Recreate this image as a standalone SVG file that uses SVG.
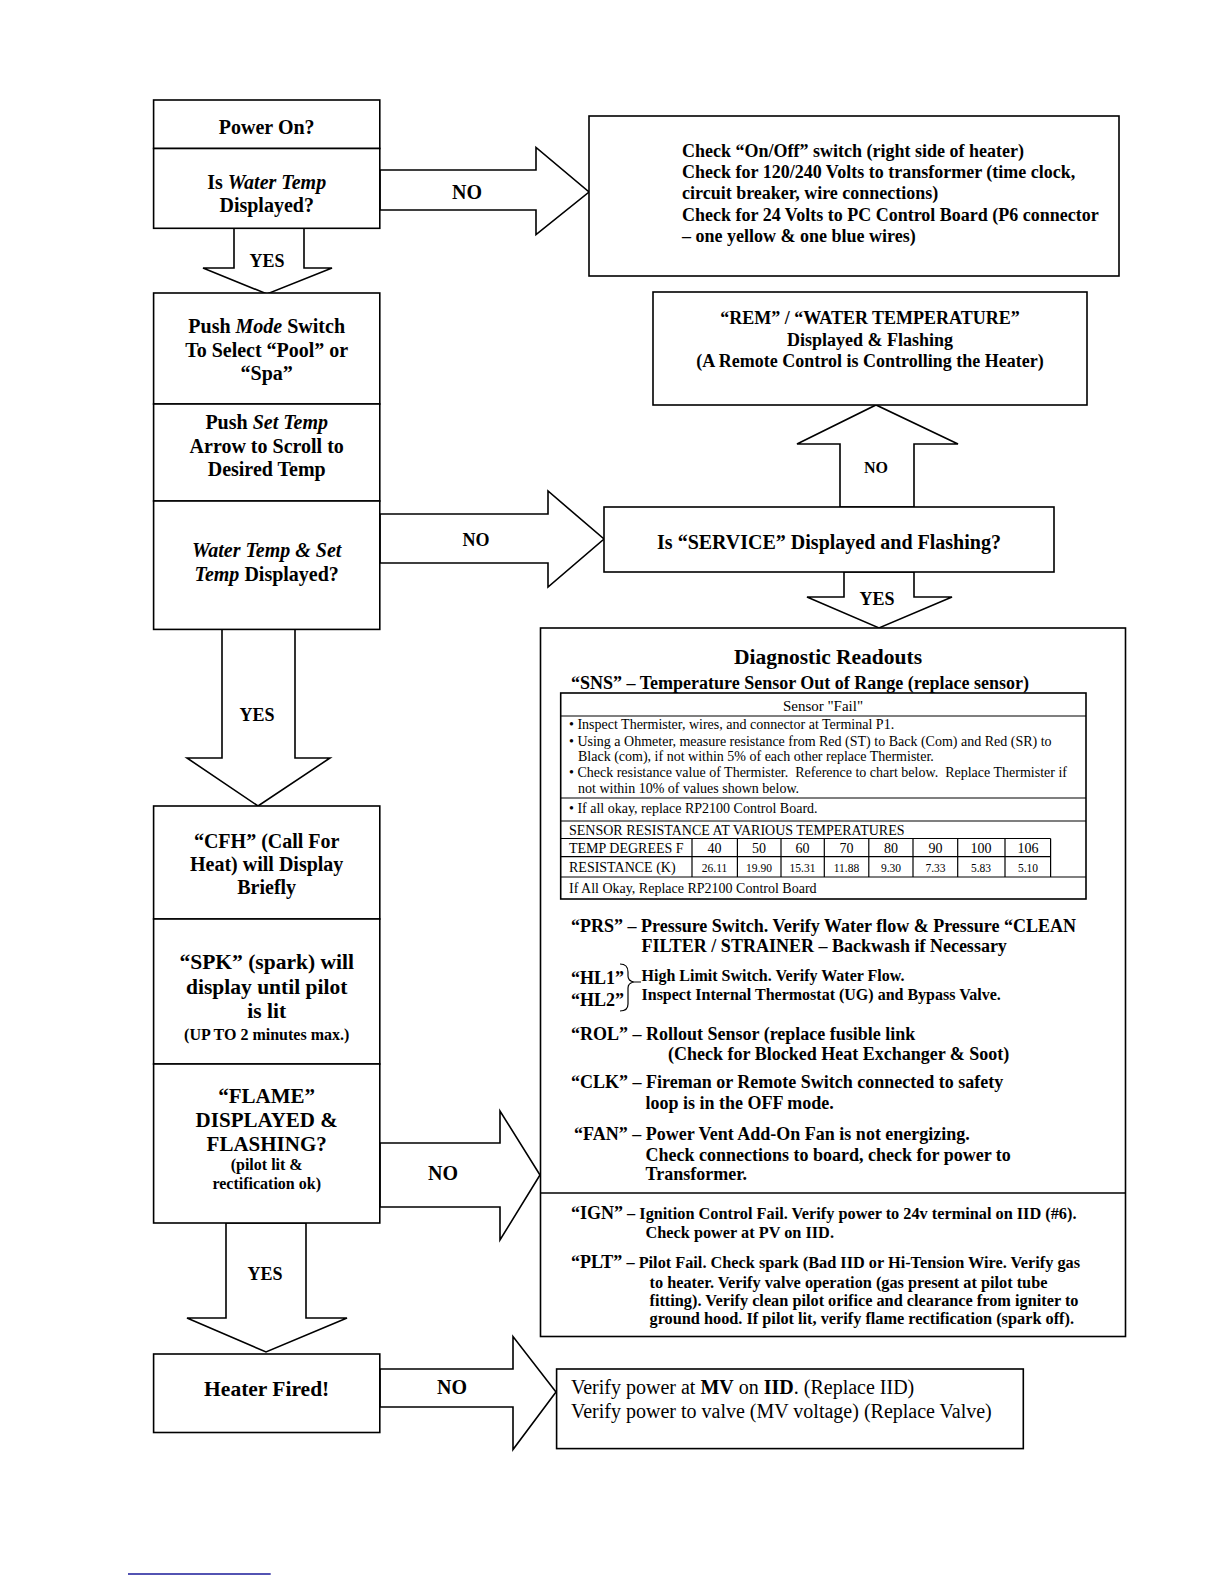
<svg xmlns="http://www.w3.org/2000/svg" width="1224" height="1584" viewBox="0 0 1224 1584">
<style>
  .box{fill:#fff;stroke:#000;stroke-width:1.6}
  .ln{stroke:#000;stroke-width:1.6;fill:none}
  .thin{stroke:#000;stroke-width:1.2;fill:none}
  .arr{fill:#fff;stroke:#000;stroke-width:1.6;stroke-linejoin:miter}
  text{font-family:"Liberation Serif","Times New Roman",serif;fill:#000}
  .b{font-weight:bold}
  .c{text-anchor:middle}
  .t16{font-size:16px}
  .t18{font-size:18px}
  .t20{font-size:20px}
  .t21{font-size:21px}
  .tb{font-size:14px}
  .tv{font-size:11.5px}
  .ts{font-size:16.3px}
</style>
<rect width="1224" height="1584" fill="#fff"/>

<g id="connectors">
  <polygon class="arr" points="234,228 234,268 203,268 267,294 332,268 304,268 304,228"/>
  <text class="b c t18" x="267" y="267">YES</text>
  <polygon class="arr" points="380,170 536,170 536,147.5 589,192 536,234.5 536,210 380,210"/>
  <text class="b c t20" x="467" y="199">NO</text>
  <polygon class="arr" points="840,507 840,444 797,444 876,405 958,444 914,444 914,507"/>
  <text class="b c t16" x="876" y="473">NO</text>
  <polygon class="arr" points="380,514 548,514 548,491 604,539 548,587 548,563 380,563"/>
  <text class="b c t18" x="476" y="546">NO</text>
  <polygon class="arr" points="844,572 844,597 807,597 879,628 952,597 914,597 914,572"/>
  <text class="b c t18" x="877" y="605">YES</text>
  <polygon class="arr" points="222,629 222,758 187,758 258,806 330,758 295,758 295,629"/>
  <text class="b c t18" x="257" y="721">YES</text>
  <polygon class="arr" points="380,1143 500,1143 500,1111 540,1175 500,1240 500,1207 380,1207"/>
  <text class="b c t20" x="443" y="1180">NO</text>
  <polygon class="arr" points="226,1223 226,1318 187,1318 266,1352 347,1318 306,1318 306,1223"/>
  <text class="b c t18" x="265" y="1280">YES</text>
  <polygon class="arr" points="380,1369 513,1369 513,1336.5 556,1392 513,1449.5 513,1407 380,1407"/>
  <text class="b c t20" x="452" y="1394">NO</text>
</g>

<g id="power-on">
  <rect class="box" x="153.6" y="100" width="226.2" height="48.5"/>
  <text class="b c t20" x="266.7" y="133.5">Power On?</text>
</g>
<g id="water-temp-displayed">
  <rect class="box" x="153.6" y="148.5" width="226.2" height="79.8"/>
  <text class="b c t20" x="266.7" y="189">Is <tspan font-style="italic">Water Temp</tspan></text>
  <text class="b c t20" x="266.7" y="212">Displayed?</text>
</g>
<g id="check-power">
  <rect class="box" x="589" y="116" width="530" height="160"/>
  <text class="b t18" x="682" y="157">Check “On/Off” switch (right side of heater)</text>
  <text class="b t18" x="682" y="178">Check for 120/240 Volts to transformer (time clock,</text>
  <text class="b t18" x="682" y="199">circuit breaker, wire connections)</text>
  <text class="b t18" x="682" y="220.5">Check for 24 Volts to PC Control Board (P6 connector</text>
  <text class="b t18" x="682" y="241.5">– one yellow &amp; one blue wires)</text>
</g>
<g id="push-mode">
  <rect class="box" x="153.6" y="293" width="226.2" height="111"/>
  <text class="b c t20" x="266.7" y="333">Push <tspan font-style="italic">Mode</tspan> Switch</text>
  <text class="b c t20" x="266.7" y="356.5">To Select “Pool” or</text>
  <text class="b c t20" x="266.7" y="380">“Spa”</text>
</g>
<g id="push-set-temp">
  <rect class="box" x="153.6" y="404" width="226.2" height="97"/>
  <text class="b c t20" x="266.7" y="429">Push <tspan font-style="italic">Set Temp</tspan></text>
  <text class="b c t20" x="266.7" y="452.5">Arrow to Scroll to</text>
  <text class="b c t20" x="266.7" y="476">Desired Temp</text>
</g>
<g id="temps-displayed">
  <rect class="box" x="153.6" y="501" width="226.2" height="128.4"/>
  <text class="b c t20" x="266.7" y="557" font-style="italic">Water Temp &amp; Set</text>
  <text class="b c t20" x="266.7" y="580.5"><tspan font-style="italic">Temp</tspan> Displayed?</text>
</g>
<g id="rem">
  <rect class="box" x="653" y="292" width="434" height="113"/>
  <text class="b c t18" x="870" y="324">“REM” / “WATER TEMPERATURE”</text>
  <text class="b c t18" x="870" y="345.5">Displayed &amp; Flashing</text>
  <text class="b c t18" x="870" y="366.5">(A Remote Control is Controlling the Heater)</text>
</g>
<g id="service">
  <rect class="box" x="604" y="507" width="450" height="65"/>
  <text class="b c t20" x="829" y="548.5">Is “SERVICE” Displayed and Flashing?</text>
</g>

<g id="diagnostic-readouts">
  <rect class="box" x="540.5" y="628" width="585" height="708.5"/>
  <line class="ln" x1="540.5" y1="1193" x2="1125.5" y2="1193"/>
  <text class="b c" style="font-size:21.5px" x="828" y="664">Diagnostic Readouts</text>
  <text class="b t18" x="571" y="689">“SNS” – Temperature Sensor Out of Range (replace sensor)</text>
  <g id="sensor-table">
    <rect class="box" x="560.7" y="693" width="525.3" height="206"/>
    <line class="thin" x1="560.7" y1="716" x2="1086" y2="716"/>
    <line class="thin" x1="560.7" y1="798" x2="1086" y2="798"/>
    <line class="thin" x1="560.7" y1="821" x2="1086" y2="821"/>
    <line class="thin" x1="560.7" y1="838.5" x2="1050.6" y2="838.5"/>
    <line class="thin" x1="560.7" y1="856.7" x2="1050.6" y2="856.7"/>
    <line class="thin" x1="560.7" y1="877" x2="1086" y2="877"/>
    <line class="thin" x1="1050.6" y1="838.5" x2="1050.6" y2="877"/>
    <line class="thin" x1="692" y1="838.5" x2="692" y2="877"/>
    <line class="thin" x1="737.4" y1="838.5" x2="737.4" y2="877"/>
    <line class="thin" x1="781" y1="838.5" x2="781" y2="877"/>
    <line class="thin" x1="824.3" y1="838.5" x2="824.3" y2="877"/>
    <line class="thin" x1="868.8" y1="838.5" x2="868.8" y2="877"/>
    <line class="thin" x1="913" y1="838.5" x2="913" y2="877"/>
    <line class="thin" x1="957.7" y1="838.5" x2="957.7" y2="877"/>
    <line class="thin" x1="1005" y1="838.5" x2="1005" y2="877"/>
    <text class="c" style="font-size:15px" x="823" y="711">Sensor "Fail"</text>
    <text class="tb" x="569" y="729">• Inspect Thermister, wires, and connector at Terminal P1.</text>
    <text class="tb" x="569" y="745.5">• Using a Ohmeter, measure resistance from Red (ST) to Back (Com) and Red (SR) to</text>
    <text class="tb" x="578" y="761">Black (com), if not within 5% of each other replace Thermister.</text>
    <text class="tb" x="569" y="777" xml:space="preserve">• Check resistance value of Thermister.  Reference to chart below.  Replace Thermister if</text>
    <text class="tb" x="578" y="793">not within 10% of values shown below.</text>
    <text class="tb" x="569" y="813">• If all okay, replace RP2100 Control Board.</text>
    <text class="tb" x="569" y="835">SENSOR RESISTANCE AT VARIOUS TEMPERATURES</text>
    <text class="tb" x="569" y="853">TEMP DEGREES F</text>
    <text class="tb c" x="714.5" y="853">40</text>
    <text class="tb c" x="759" y="853">50</text>
    <text class="tb c" x="802.5" y="853">60</text>
    <text class="tb c" x="846.5" y="853">70</text>
    <text class="tb c" x="891" y="853">80</text>
    <text class="tb c" x="935.5" y="853">90</text>
    <text class="tb c" x="981" y="853">100</text>
    <text class="tb c" x="1028" y="853">106</text>
    <text class="tb" x="569" y="871.5">RESISTANCE (K)</text>
    <text class="tv c" x="714.5" y="871.5">26.11</text>
    <text class="tv c" x="759" y="871.5">19.90</text>
    <text class="tv c" x="802.5" y="871.5">15.31</text>
    <text class="tv c" x="846.5" y="871.5">11.88</text>
    <text class="tv c" x="891" y="871.5">9.30</text>
    <text class="tv c" x="935.5" y="871.5">7.33</text>
    <text class="tv c" x="981" y="871.5">5.83</text>
    <text class="tv c" x="1028" y="871.5">5.10</text>
    <text class="tb" x="569" y="893">If All Okay, Replace RP2100 Control Board</text>
  </g>
  <text class="b t18" x="571" y="931.5">“PRS” – Pressure Switch. Verify Water flow &amp; Pressure “CLEAN</text>
  <text class="b t18" x="641.5" y="952">FILTER / STRAINER – Backwash if Necessary</text>
  <text class="b t18" x="571" y="984">“HL1”</text>
  <text class="b t18" x="571" y="1005.5">“HL2”</text>
  <path class="thin" d="M620,964 Q628,964 628,972 L628,976 Q628,981 634,982 L641,982 M634,982 Q628,983 628,988 L628,1004 Q628,1011 620,1011"/>
  <text class="b t16" x="641.5" y="981">High Limit Switch. Verify Water Flow.</text>
  <text class="b t16" x="641.5" y="999.5">Inspect Internal Thermostat (UG) and Bypass Valve.</text>
  <text class="b t18" x="571" y="1039.5">“ROL” – Rollout Sensor (replace fusible link</text>
  <text class="b t18" x="668" y="1060">(Check for Blocked Heat Exchanger &amp; Soot)</text>
  <text class="b t18" x="571" y="1088">“CLK” – Fireman or Remote Switch connected to safety</text>
  <text class="b t18" x="645.5" y="1108.5">loop is in the OFF mode.</text>
  <text class="b t18" x="574" y="1139.5">“FAN” – Power Vent Add-On Fan is not energizing.</text>
  <text class="b t18" x="645.5" y="1161">Check connections to board, check for power to</text>
  <text class="b t18" x="645.5" y="1180">Transformer.</text>
  <text class="b" x="571" y="1218.5"><tspan style="font-size:18px">“IGN”</tspan><tspan class="ts"> – Ignition Control Fail. Verify power to 24v terminal on IID (#6).</tspan></text>
  <text class="b ts" x="645.5" y="1238">Check power at PV on IID.</text>
  <text class="b" x="571" y="1268"><tspan style="font-size:18px">“PLT”</tspan><tspan class="ts"> – Pilot Fail. Check spark (Bad IID or Hi-Tension Wire. Verify gas</tspan></text>
  <text class="b ts" x="649.5" y="1288">to heater. Verify valve operation (gas present at pilot tube</text>
  <text class="b ts" x="649.5" y="1306">fitting). Verify clean pilot orifice and clearance from igniter to</text>
  <text class="b ts" x="649.5" y="1324">ground hood. If pilot lit, verify flame rectification (spark off).</text>
</g>

<g id="cfh">
  <rect class="box" x="153.6" y="806" width="226.2" height="113"/>
  <text class="b c t20" x="266.7" y="848">“CFH” (Call For</text>
  <text class="b c t20" x="266.7" y="871">Heat) will Display</text>
  <text class="b c t20" x="266.7" y="893.5">Briefly</text>
</g>
<g id="spk">
  <rect class="box" x="153.6" y="919" width="226.2" height="145"/>
  <text class="b c" style="font-size:21.5px" x="266.7" y="969">“SPK” (spark) will</text>
  <text class="b c" style="font-size:21.5px" x="266.7" y="994">display until pilot</text>
  <text class="b c" style="font-size:21.5px" x="266.7" y="1018">is lit</text>
  <text class="b c t16" x="266.7" y="1039.5">(UP TO 2 minutes max.)</text>
</g>
<g id="flame">
  <rect class="box" x="153.6" y="1064" width="226.2" height="159"/>
  <text class="b c t21" x="266.7" y="1103">“FLAME”</text>
  <text class="b c t21" x="266.7" y="1126.5">DISPLAYED &amp;</text>
  <text class="b c t21" x="266.7" y="1150.5">FLASHING?</text>
  <text class="b c t16" x="266.7" y="1170">(pilot lit &amp;</text>
  <text class="b c t16" x="266.7" y="1189">rectification ok)</text>
</g>
<g id="heater-fired">
  <rect class="box" x="153.6" y="1354" width="226.2" height="78.5"/>
  <text class="b c" style="font-size:21.5px" x="266.7" y="1395.5">Heater Fired!</text>
</g>
<g id="verify-mv">
  <rect class="box" x="556.6" y="1369" width="466.7" height="79.6"/>
  <text class="t20" x="571" y="1394">Verify power at <tspan font-weight="bold">MV</tspan> on <tspan font-weight="bold">IID</tspan>. (Replace IID)</text>
  <text class="t20" x="571" y="1417.5">Verify power to valve (MV voltage) (Replace Valve)</text>
</g>
<line x1="128" y1="1574" x2="270.7" y2="1574" stroke="#1a1a9a" stroke-width="1.5"/>
</svg>
